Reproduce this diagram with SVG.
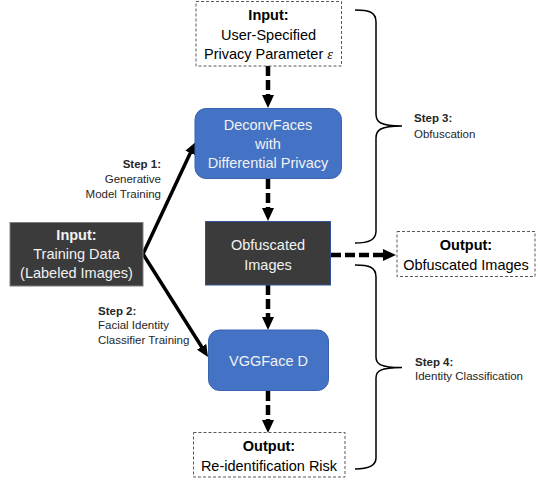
<svg xmlns="http://www.w3.org/2000/svg" width="538" height="480" viewBox="0 0 538 480">
<defs>
<style>
text{font-family:"Liberation Sans",Arial,sans-serif;}
.t{font-size:14.5px;text-anchor:middle;fill:#000;}
.w{fill:#f2f2f2;}
.b{font-weight:bold;}
.s{font-size:11.5px;fill:#262626;}
.dbox{fill:#fff;stroke:#595959;stroke-width:1;stroke-dasharray:3 2;}
.blue{fill:#4472C4;stroke:#3a63ad;stroke-width:1;}
.dark{fill:#3b3b3b;}
.dash{stroke:#000;stroke-width:4.5;stroke-dasharray:10 4;fill:none;}
.solid{stroke:#000;stroke-width:3.5;fill:none;stroke-linecap:round;}
.brace{stroke:#000;stroke-width:1.5;fill:none;}
</style>
<marker id="ah" markerUnits="userSpaceOnUse" markerWidth="13" markerHeight="12" refX="0" refY="6" orient="auto">
<path d="M0,0 L13,6 L0,12 z" fill="#000"/>
</marker>
<marker id="ahs" markerUnits="userSpaceOnUse" markerWidth="12" markerHeight="11" refX="0" refY="5.5" orient="auto">
<path d="M0,0 L12,5.5 L0,11 z" fill="#000"/>
</marker>
</defs>

<g id="connectors">
<line class="dash" x1="268" y1="66" x2="268" y2="95" marker-end="url(#ah)"/>
<line class="dash" x1="268" y1="179" x2="268" y2="208" marker-end="url(#ah)"/>
<line class="dash" x1="268" y1="285" x2="268" y2="317" marker-end="url(#ah)"/>
<line class="dash" x1="268" y1="391" x2="268" y2="420" marker-end="url(#ah)"/>
<line class="dash" x1="331" y1="255" x2="383" y2="255" marker-end="url(#ah)"/>
<line class="solid" x1="143" y1="254" x2="190.3" y2="153" marker-end="url(#ahs)"/>
<line class="solid" x1="143" y1="254" x2="201.6" y2="346.8" marker-end="url(#ahs)"/>
</g>

<g id="brace-step3">
<path class="brace" d="M355,10 C369,10 376,12 376,22 L376,114 C376,122 380,126 402,126 C380,126 376,130 376,138 L376,231 C376,240 369,243 355,243"/>
<text class="s b" x="414" y="122">Step 3:</text>
<text class="s" x="414" y="138">Obfuscation</text>
</g>

<g id="brace-step4">
<path class="brace" d="M355,265 C369,265 376,267 376,277 L376,357 C376,364 380,367.5 402,367.5 C380,367.5 376,371 376,378 L376,458 C376,466 369,469 355,469"/>
<text class="s b" x="415" y="365.5">Step 4:</text>
<text class="s" x="415" y="379.5">Identity Classification</text>
</g>

<g id="step1-label">
<text class="s b" x="161" y="168" text-anchor="end">Step 1:</text>
<text class="s" x="161" y="182.5" text-anchor="end">Generative</text>
<text class="s" x="161" y="197.5" text-anchor="end">Model Training</text>
</g>

<g id="step2-label">
<text class="s b" x="98" y="314.5">Step 2:</text>
<text class="s" x="98" y="329">Facial Identity</text>
<text class="s" x="98" y="344">Classifier Training</text>
</g>

<g id="input-privacy">
<rect class="dbox" x="196" y="1.5" width="145.5" height="64.5"/>
<text class="t b" x="268.5" y="20">Input:</text>
<text class="t" x="268.5" y="39.5">User-Specified</text>
<text class="t" x="268.5" y="59">Privacy Parameter <tspan font-family="Liberation Serif" font-style="italic">ε</tspan></text>
</g>

<g id="deconvfaces">
<rect class="blue" x="195" y="108.5" width="146.5" height="70" rx="11"/>
<text class="t w" x="268" y="130">DeconvFaces</text>
<text class="t w" x="268" y="148.5">with</text>
<text class="t w" x="268" y="168">Differential Privacy</text>
</g>

<g id="obfuscated-images">
<rect class="dark" x="205.5" y="221.5" width="125" height="63.5" stroke="#2f5597" stroke-width="1"/>
<text class="t w" x="268" y="250">Obfuscated</text>
<text class="t w" x="268" y="269.5">Images</text>
</g>

<g id="vggface">
<rect class="blue" x="208.5" y="330" width="120" height="60.5" rx="11"/>
<text class="t w" x="268.5" y="366">VGGFace D</text>
</g>

<g id="input-training">
<rect class="dark" x="10" y="222.5" width="133" height="63.5" stroke="#7f7f7f" stroke-width="1"/>
<text class="t w b" x="76.5" y="240">Input:</text>
<text class="t w" x="76.5" y="259">Training Data</text>
<text class="t w" x="76.5" y="278">(Labeled Images)</text>
</g>

<g id="output-obfuscated">
<rect class="dbox" x="397" y="231.5" width="138" height="45"/>
<text class="t b" x="466" y="249.5">Output:</text>
<text class="t" x="466" y="269.5">Obfuscated Images</text>
</g>

<g id="output-risk">
<rect class="dbox" x="193.5" y="432.5" width="151.5" height="44.5"/>
<text class="t b" x="269" y="451">Output:</text>
<text class="t" x="269" y="470.5">Re-identification Risk</text>
</g>
</svg>
